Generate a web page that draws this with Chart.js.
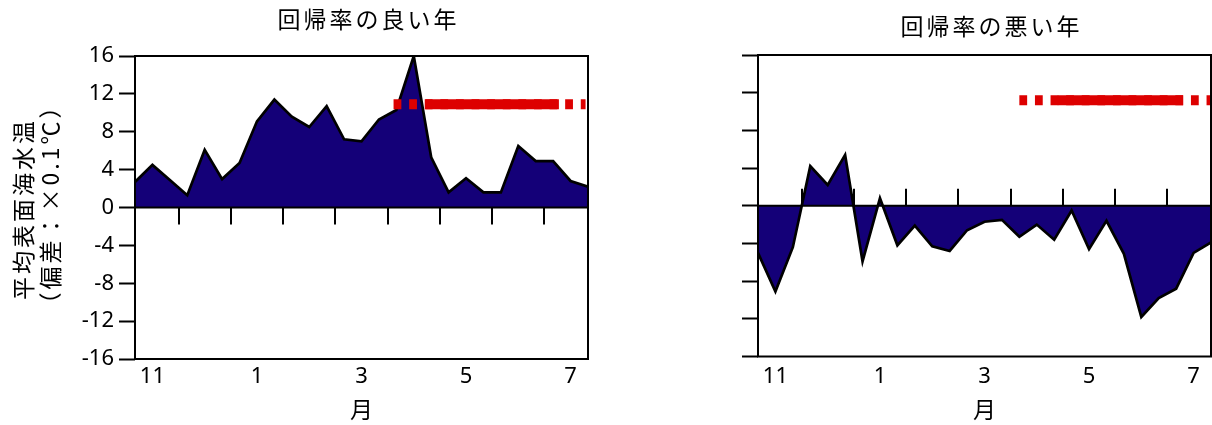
<!DOCTYPE html>
<html>
<head>
<meta charset="utf-8">
<script src="https://cdn.jsdelivr.net/npm/chart.js@4"></script>
<style>
  html, body { margin: 0; padding: 0; background: #fff; }
  #wrap { position: relative; width: 1212px; height: 425px; }
  .panel { position: absolute; top: 0; width: 606px; height: 425px; }
</style>
</head>
<body>
<div id="wrap">
  <div class="panel" style="left:0"><canvas id="goodChart"></canvas></div>
  <div class="panel" style="left:606px"><canvas id="badChart"></canvas></div>
</div>
<script>
// 旬別（上・中・下旬）の平均表面海水温偏差（×0.1℃）、11月上旬〜7月下旬
const months = [11, 12, 1, 2, 3, 4, 5, 6, 7];
const dekads = ['上旬', '中旬', '下旬'];

// 回帰率の良い年
const goodYear = [
  2.7, 4.5, 2.9, 1.3, 6.1, 3.0, 4.7, 9.1, 11.4,
  9.6, 8.5, 10.7, 7.2, 7.0, 9.3, 10.3, 16.0, 5.3,
  1.6, 3.1, 1.6, 1.6, 6.5, 4.9, 4.9, 2.8, 2.2
];
// 回帰率の悪い年
const badYear = [
  -5.0, -9.1, -4.4, 4.2, 2.2, 5.4, -5.9, 0.8, -4.2,
  -2.1, -4.3, -4.8, -2.6, -1.7, -1.5, -3.3, -2.0, -3.6,
  -0.5, -4.6, -1.6, -5.1, -11.8, -9.8, -8.8, -5.0, -3.9
];

// 回帰期間（旬番号で表した区間）と表示する高さ
const goodDashSpan = [14.84, 25.86];
const goodSolidSpan = [16.67, 24.33];
const goodSpanLevel = 10.9;
const badDashSpan = [15.0, 26.0];
const badSolidSpan = [17.2, 24.4];
const badSpanLevel = 11.2;

const yTickLabels = ['-16', '-12', '-8', '-4', '0', '4', '8', '12', '16'];
const monthTickLabels = ['11', '1', '3', '5', '7'];

// 旬番号 i（0 = 11月上旬）を x 値とする
const dekadLabels = months.flatMap(m => dekads.map(d => m + '月' + d));
const lastIndex = dekadLabels.length - 1;
// 奇数月の中旬に月ラベル、月の境目に目盛り
const monthLabelPos = months.map((m, k) => 3 * k + 1).filter((_, k) => k % 2 === 0);
const monthBounds = months.slice(1).map((m, k) => 3 * (k + 1) - 0.5);

const NAVY = '#140078';
const RED = '#dd0000';
const JP = '"Noto Sans CJK JP", "Noto Sans", sans-serif';
const NUM = '"Noto Sans", "Noto Sans CJK JP", sans-serif';

Chart.defaults.color = '#000';
Chart.defaults.font.family = NUM;

// 枠・ゼロ線・月境界の目盛り
const framePlugin = {
  id: 'frame',
  afterDatasetsDraw(chart, args, opts) {
    const { ctx, chartArea: a, scales: { x, y } } = chart;
    const y0 = y.getPixelForValue(0);
    ctx.save();
    ctx.strokeStyle = '#000';
    ctx.lineWidth = 2;
    ctx.beginPath();
    ctx.moveTo(a.left, y0);
    ctx.lineTo(a.right, y0);
    monthBounds.forEach(v => {
      const px = Math.round(x.getPixelForValue(v));
      ctx.moveTo(px, y0);
      ctx.lineTo(px, y0 + opts.tickDir * 17);
    });
    ctx.stroke();
    ctx.strokeRect(a.left, a.top, a.right - a.left, a.bottom - a.top);
    ctx.restore();
  }
};

// パネル見出しと縦軸タイトル
const textPlugin = {
  id: 'texts',
  afterDraw(chart, args, opts) {
    const { ctx, chartArea: a } = chart;
    ctx.save();
    ctx.fillStyle = '#000';
    ctx.font = '23px ' + JP;
    ctx.letterSpacing = '3px';
    ctx.textAlign = 'center';
    ctx.textBaseline = 'middle';
    ctx.fillText(opts.title, (a.left + a.right) / 2 + opts.titleDx, opts.titleY);
    if (opts.yTitle) {
      opts.yTitle.forEach((line, i) => {
        ctx.save();
        ctx.translate(opts.yTitleX[i], opts.yTitleY[i]);
        ctx.rotate(-Math.PI / 2);
        ctx.fillText(line, 0, 0);
        ctx.restore();
      });
    }
    ctx.restore();
  }
};

function spanData(span, level) {
  return span.map(v => ({ x: v, y: level }));
}

function makeChart(id, values, dashSpan, solidSpan, level, cfg) {
  return new Chart(document.getElementById(id), {
    type: 'line',
    data: {
      datasets: [
        {
          data: spanData(solidSpan, level),
          borderColor: RED, borderWidth: 10, borderCapStyle: 'butt',
          pointRadius: 0, fill: false, order: 1
        },
        {
          data: spanData(dashSpan, level),
          borderColor: RED, borderWidth: 10, borderDash: [7.8, 7.8], borderCapStyle: 'butt',
          pointRadius: 0, fill: false, order: 2
        },
        {
          data: values.map((v, i) => ({ x: i, y: v })),
          borderColor: '#000', borderWidth: 2.7, borderJoinStyle: 'miter',
          backgroundColor: NAVY, fill: 'origin',
          pointRadius: 0, tension: 0, order: 3
        }
      ]
    },
    options: {
      responsive: true,
      maintainAspectRatio: false,
      animation: false,
      events: [],
      layout: { padding: { top: cfg.top, right: cfg.right, left: 0, bottom: 0 } },
      plugins: {
        legend: { display: false },
        tooltip: { enabled: false },
        frame: { tickDir: cfg.tickDir },
        texts: {
          title: cfg.title, titleY: cfg.titleY, titleDx: 7,
          yTitle: cfg.yTitle, yTitleX: [23, 50], yTitleY: [209, 204]
        }
      },
      scales: {
        x: {
          type: 'linear',
          min: 0, max: lastIndex,
          afterFit(s) { s.height = 425 - cfg.bottom; },
          afterBuildTicks(s) { s.ticks = monthLabelPos.map(v => ({ value: v })); },
          ticks: {
            autoSkip: false, maxRotation: 0, padding: cfg.xPad,
            font: { size: 22, family: NUM },
            callback: (v, i) => monthTickLabels[i]
          },
          grid: { display: false, drawTicks: false },
          border: { display: false },
          title: { display: true, text: '月', font: { size: 23, family: JP }, padding: { top: 0, bottom: 2 } }
        },
        y: {
          min: -16, max: 16,
          afterFit(s) { s.width = cfg.left; },
          ticks: {
            stepSize: 4, padding: 5, display: cfg.yLabels,
            font: { size: 22, family: NUM },
            callback: (v, i) => yTickLabels[i]
          },
          grid: {
            drawOnChartArea: false, drawTicks: true, tickLength: 16,
            tickColor: '#000', tickWidth: 2
          },
          border: { display: false }
        }
      }
    },
    plugins: [framePlugin, textPlugin]
  });
}

makeChart('goodChart', goodYear, goodDashSpan, goodSolidSpan, goodSpanLevel, {
  top: 56, right: 18, left: 135, bottom: 359, xPad: 5, tickDir: 1,
  yLabels: true, title: '回帰率の良い年', titleY: 19,
  yTitle: ['平均表面海水温', '（偏差：×0.1℃）']
});

makeChart('badChart', badYear, badDashSpan, badSolidSpan, badSpanLevel, {
  top: 55, right: 1, left: 152, bottom: 356.5, xPad: 7, tickDir: -1,
  yLabels: false, title: '回帰率の悪い年', titleY: 26
});
</script>
</body>
</html>
